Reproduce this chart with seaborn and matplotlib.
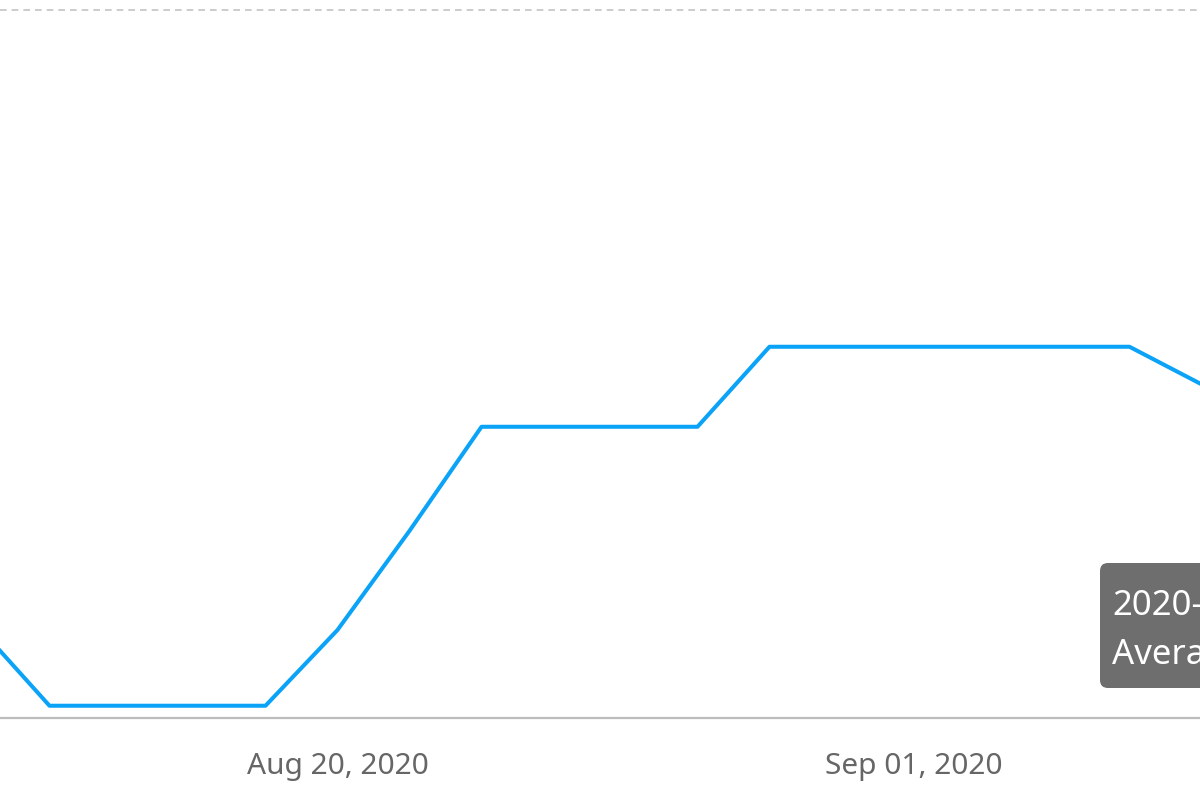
import pandas as pd
import matplotlib.pyplot as plt
import matplotlib.dates as mdates
from matplotlib.patches import FancyBboxPatch
import seaborn as sns

# data (one point every 36 hours)
dates = ['2020-08-12 12:00', '2020-08-14 00:00', '2020-08-15 12:00', '2020-08-17 00:00',
         '2020-08-18 12:00', '2020-08-20 00:00', '2020-08-21 12:00', '2020-08-23 00:00',
         '2020-08-24 12:00', '2020-08-26 00:00', '2020-08-27 12:00', '2020-08-29 00:00',
         '2020-08-30 12:00', '2020-09-01 00:00', '2020-09-02 12:00', '2020-09-04 00:00',
         '2020-09-05 12:00', '2020-09-07 00:00']
average = [1.31, 0.18, 0.18, 0.18, 0.18, 1.25, 2.65, 4.12, 4.12, 4.12, 4.12,
           5.25, 5.25, 5.25, 5.25, 5.25, 5.25, 4.72]
tick_dates = ['2020-08-20', '2020-09-01']
tooltip_lines = ['2020-09-05', 'Average: 5.25']

df = pd.DataFrame({'date': pd.to_datetime(dates), 'average': average})

sns.set_theme(style='white')
plt.rcParams['font.family'] = ['Noto Sans', 'DejaVu Sans']

fig = plt.figure(figsize=(12, 8), dpi=100)
ax = fig.add_axes([0, 0.1019, 1, 0.93])

sns.lineplot(data=df, x='date', y='average', ax=ax, color='#0aa3f8', linewidth=2.9)

# visible window: 48 px per day, Aug 20 at x=337.5
left = pd.Timestamp('2020-08-20') - pd.Timedelta(days=337.5 / 48)
ax.set_xlim(left, left + pd.Timedelta(days=25))
ax.set_ylim(0, 10.508)

ax.set_yticks([10])
ax.yaxis.grid(True, color='#c4c4c4', linestyle=(0, (4, 3)), linewidth=1.2)
ax.xaxis.grid(False)
ax.tick_params(axis='y', left=False, labelleft=False)

ax.set_xticks(pd.to_datetime(tick_dates))
ax.xaxis.set_major_formatter(mdates.DateFormatter('%b %d, %Y'))
ax.tick_params(axis='x', bottom=False, pad=18, labelsize=21.5, labelcolor='#666666')

sns.despine(ax=ax, left=True, right=True, top=True)
ax.spines['bottom'].set_color('#bdbdbd')
ax.spines['bottom'].set_linewidth(1.6)
ax.set_xlabel('')
ax.set_ylabel('')

# tooltip, cut off at the right edge as in the reference
box = FancyBboxPatch((11.0, 1.12), 2.0, 1.25, boxstyle='round,pad=0,rounding_size=0.08',
                     transform=fig.dpi_scale_trans, facecolor='#6e6e6e', edgecolor='none')
fig.patches.append(box)
fig.text(1112 / 1200, (800 - 615) / 800, tooltip_lines[0], color='white', fontsize=25, va='baseline')
fig.text(1112 / 1200, (800 - 664) / 800, tooltip_lines[1], color='white', fontsize=25, va='baseline')

fig.savefig('out.png', dpi=100)
